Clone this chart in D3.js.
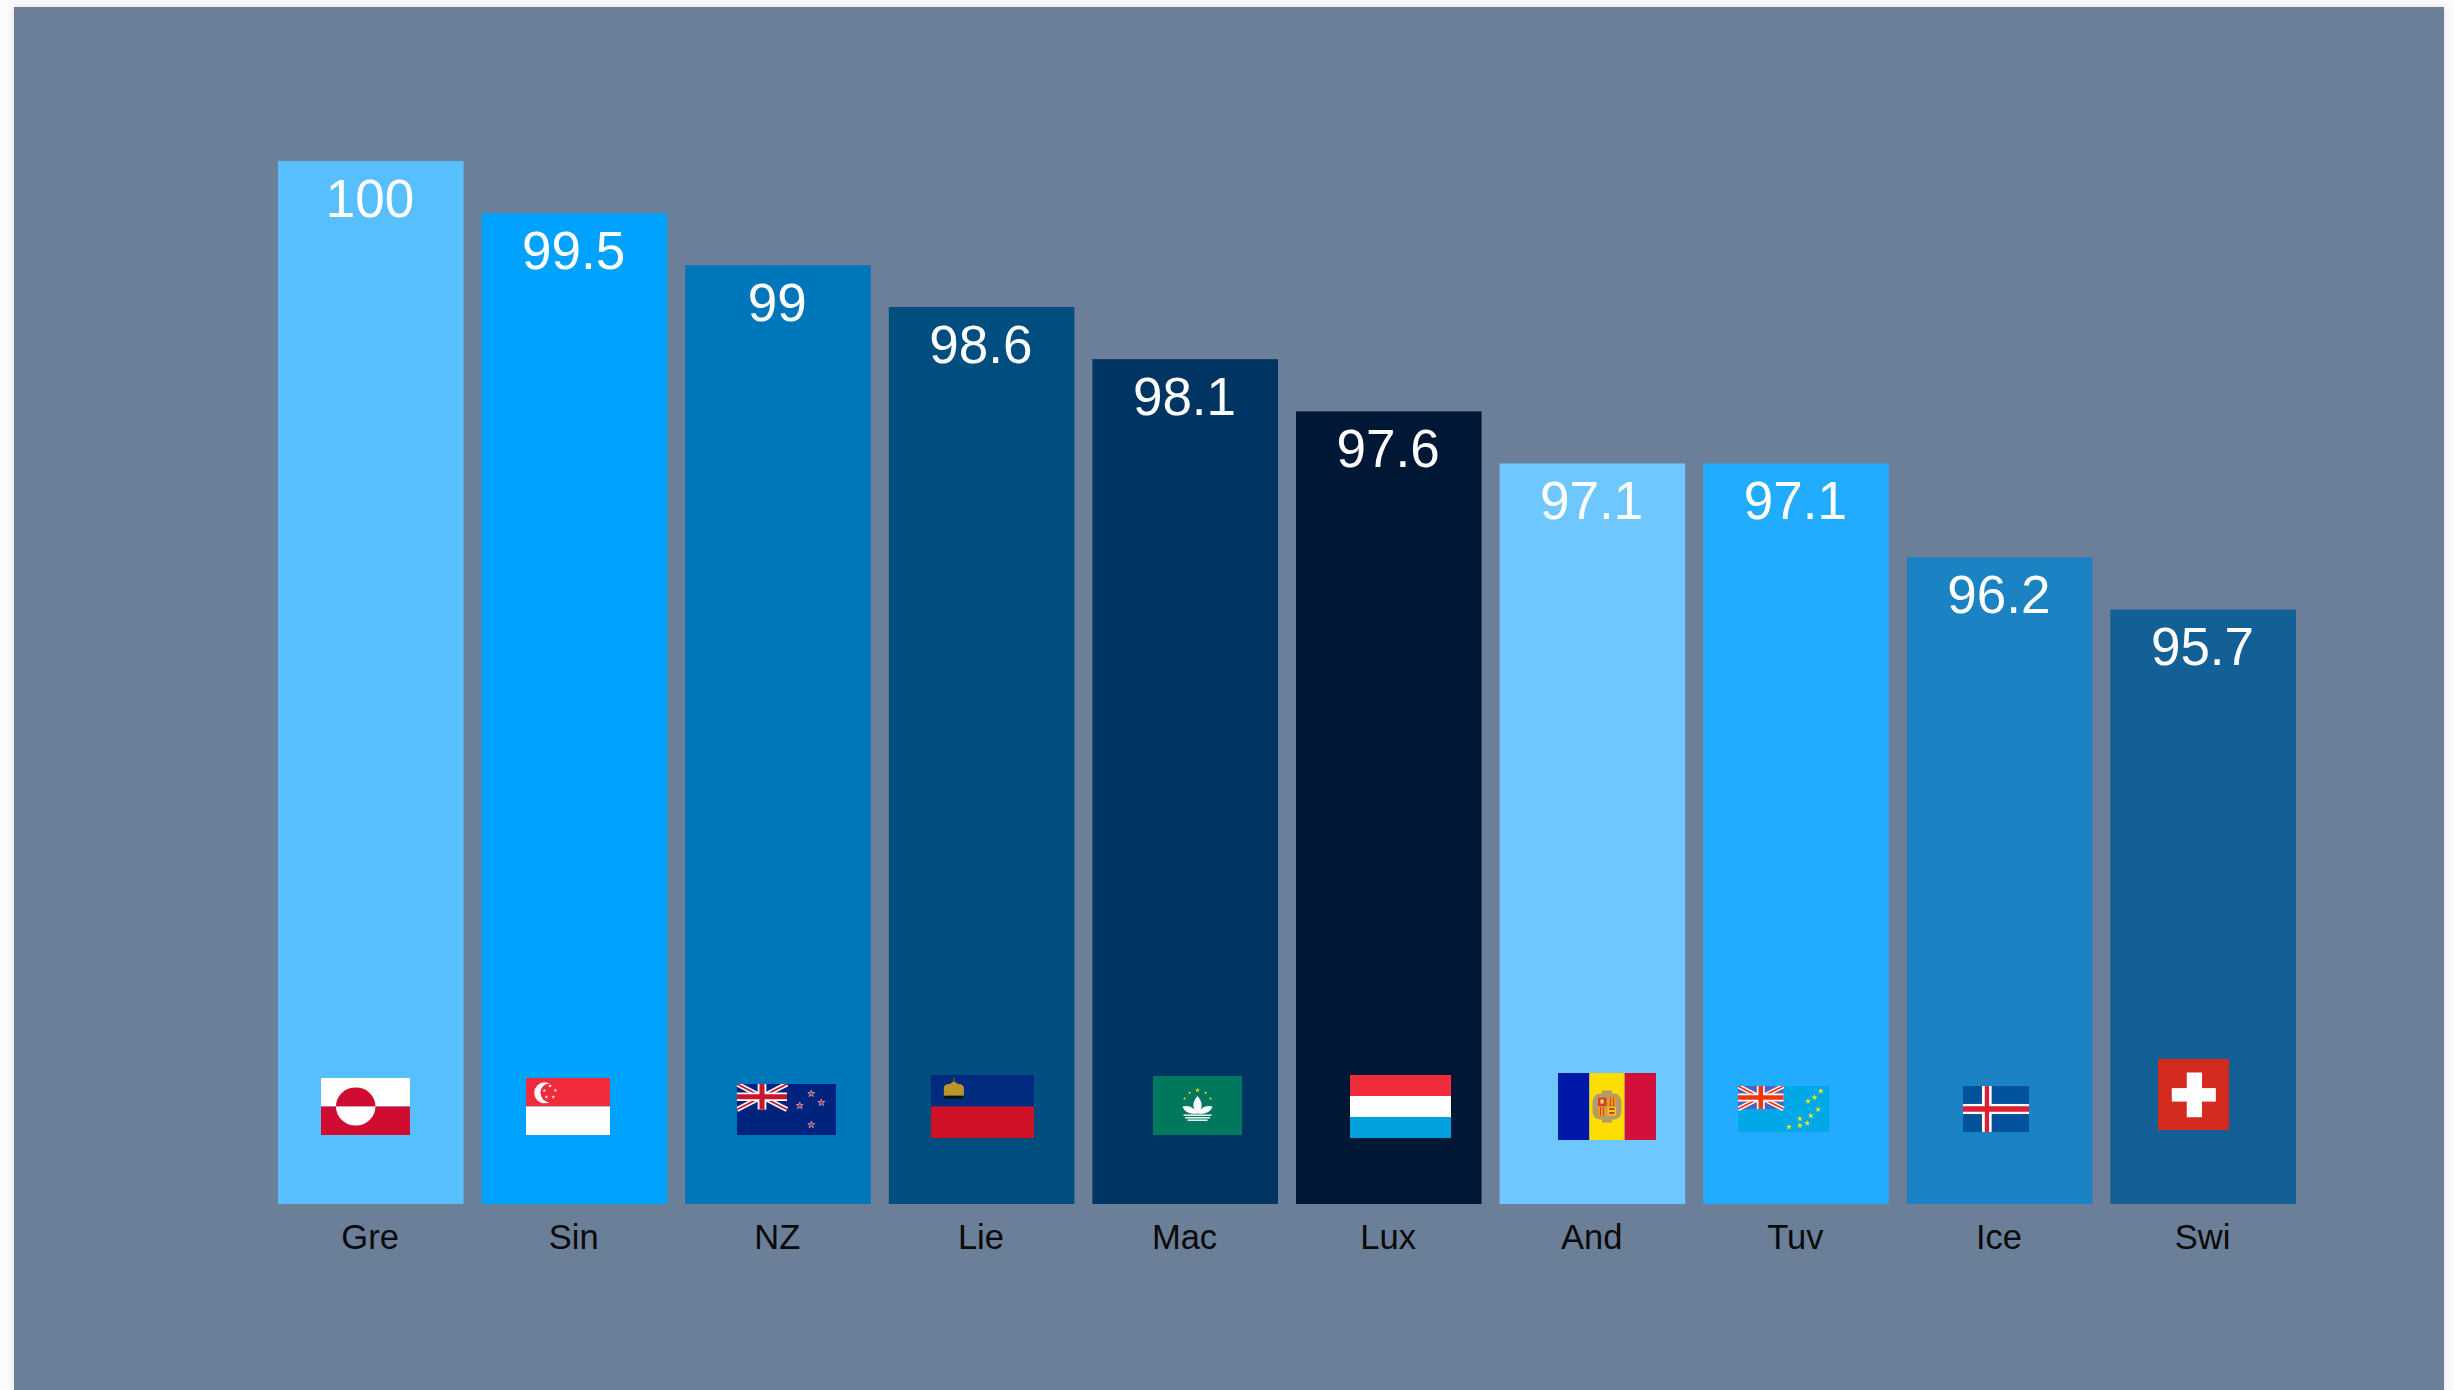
<!DOCTYPE html>
<html>
<head>
<meta charset="utf-8">
<script src="https://cdn.jsdelivr.net/npm/d3@7"></script>
<style>
html,body{margin:0;padding:0;background:#fbfbfb;overflow:hidden;}
#panel{position:absolute;left:14px;top:7px;width:2430px;height:1383px;background:#6b8098;box-shadow:0 0 7px rgba(0,0,0,.12);}
svg{position:absolute;left:0;top:0;}
text{font-family:"Liberation Sans",Arial,sans-serif;}
</style>
</head>
<body>
<div id="panel"></div>
<svg id="chart" width="2454" height="1390"></svg>
<script>
const categories = ["Gre","Sin","NZ","Lie","Mac","Lux","And","Tuv","Ice","Swi"];
const values = [100,99.5,99,98.6,98.1,97.6,97.1,97.1,96.2,95.7];
const valueLabels = ["100","99.5","99","98.6","98.1","97.6","97.1","97.1","96.2","95.7"];
const barColors = ["#58bfff","#00a2ff","#0076ba","#004e80","#003462","#001836","#6ec8ff","#22acff","#1b83c4","#136096"];
const flagNames = ["greenland","singapore","newzealand","liechtenstein","macau","luxembourg","andorra","tuvalu","iceland","switzerland"];
// flag box relative to band left edge / absolute top: [dx, y, w, h]
const flagBoxes = [[43,1078,89,57],[44.4,1078,84,57],[51.8,1084,99,51],[42.2,1075,103,63],[60.6,1076,89,59],[54,1075,101,63],[58.4,1073,98,67],[34.8,1086,91,46],[56.2,1086,66,46],[47.6,1059,71,71]];

const svg = d3.select("#chart");
const x = d3.scaleBand().domain(categories).range([278,2296]).paddingInner(0.0885).paddingOuter(0);
const y = d3.scaleLinear().domain([90,100]).range([1204,161]);

svg.append("g").selectAll("rect").data(categories).join("rect")
  .attr("x",d=>x(d)).attr("width",x.bandwidth())
  .attr("y",(d,i)=>y(values[i])).attr("height",(d,i)=>y(90)-y(values[i]))
  .attr("fill",(d,i)=>barColors[i]);

svg.append("g").selectAll("text").data(categories).join("text")
  .attr("x",d=>x(d)+x.bandwidth()/2-0.7).attr("y",(d,i)=>y(values[i])+56)
  .attr("text-anchor","middle").attr("fill","#fff").attr("font-size",53)
  .text((d,i)=>valueLabels[i]);

const axis = d3.axisBottom(x).tickSize(0).tickPadding(0);
const ag = svg.append("g").attr("transform","translate(-0.7,1204)").call(axis);
ag.select(".domain").remove();
ag.selectAll("text").attr("dy",null).attr("y",45).attr("font-size",34.5).attr("fill","#0a0a0a")
  .style("font-family",'"Liberation Sans",Arial,sans-serif');

function star(g,cx,cy,r,fill,stroke,sw){
  g.append("path").attr("d",d3.symbol(d3.symbolStar,Math.PI*r*r*0.7)())
   .attr("transform",`translate(${cx},${cy})`).attr("fill",fill)
   .attr("stroke",stroke||"none").attr("stroke-width",sw||0);
}
function rect(g,a,b,w,h,f){g.append("rect").attr("x",a).attr("y",b).attr("width",w).attr("height",h).attr("fill",f);}
function union(g,w,h,bg,wh,red){
  rect(g,0,0,w,h,bg);
  const c=g.append("g");
  const line=(x1,y1,x2,y2,col,sw)=>c.append("line").attr("x1",x1).attr("y1",y1).attr("x2",x2).attr("y2",y2).attr("stroke",col).attr("stroke-width",sw);
  line(0,0,w,h,wh,h*0.2);line(w,0,0,h,wh,h*0.2);
  line(0,0,w,h,red,h*0.07);line(w,0,0,h,red,h*0.07);
  line(w/2,0,w/2,h,wh,h*0.34);line(0,h/2,w,h/2,wh,h*0.34);
  line(w/2,0,w/2,h,red,h*0.2);line(0,h/2,w,h/2,red,h*0.2);
}
const drawers = {
  greenland(g,w,h){
    rect(g,0,0,w,h/2,"#fff");rect(g,0,h/2,w,h/2,"#d00c33");
    const cx=w*0.39,rx=w*0.222,ry=h*0.335;
    g.append("path").attr("d",`M${cx-rx},${h/2}A${rx},${ry} 0 0 1 ${cx+rx},${h/2}Z`).attr("fill","#d00c33");
    g.append("path").attr("d",`M${cx-rx},${h/2}A${rx},${ry} 0 0 0 ${cx+rx},${h/2}Z`).attr("fill","#fff");
  },
  singapore(g,w,h){
    rect(g,0,0,w,h/2,"#ef2b3c");rect(g,0,h/2,w,h/2,"#fff");
    g.append("circle").attr("cx",w*0.222).attr("cy",h*0.26).attr("r",h*0.184).attr("fill","#fff");
    g.append("circle").attr("cx",w*0.285).attr("cy",h*0.26).attr("r",h*0.167).attr("fill","#ef2b3c");
    [[.286,.14],[.218,.22],[.35,.216],[.243,.333],[.325,.333]].forEach(p=>star(g,w*p[0],h*p[1],1.4,"#fff"));
  },
  newzealand(g,w,h){
    rect(g,0,0,w,h,"#00247d");
    union(g.append("g"),w*0.505,h*0.5,"#00247d","#fff","#cc142b");
    [[.75,.19],[.634,.425],[.852,.366],[.75,.8]].forEach(p=>star(g,w*p[0],h*p[1],2.6,"#cc142b","#d8d8e8",.6));
  },
  liechtenstein(g,w,h){
    rect(g,0,0,w,h/2,"#002b7f");rect(g,0,h/2,w,h/2,"#ce1126");
    const cg=g.append("g").attr("transform",`translate(${w*0.222},${h*0.24})`);
    cg.append("path").attr("d","M-10,6 L-10,-3 Q-8,-7 -4,-6 L0,-9 L4,-6 Q8,-7 10,-3 L10,6 Z").attr("fill","#b8962a");
    cg.append("rect").attr("x",-9.5).attr("y",5.5).attr("width",19).attr("height",3).attr("fill","#111");
    cg.append("rect").attr("x",-.7).attr("y",-13).attr("width",1.4).attr("height",5).attr("fill","#6a5620");
  },
  macau(g,w,h){
    rect(g,0,0,w,h,"#00785e");
    const cx=w*0.5,cy=h*0.5,l=g.append("g").attr("fill","#fff");
    l.append("path").attr("d",`M${cx},${cy-9.5} C${cx+6},${cy-3} ${cx+5},${cy+4} ${cx},${cy+8} C${cx-5},${cy+4} ${cx-6},${cy-3} ${cx},${cy-9.5}Z`);
    l.append("path").attr("d",`M${cx-15},${cy+1} C${cx-8},${cy-1} ${cx-3},${cy+3} ${cx},${cy+8} C${cx-7},${cy+9} ${cx-13},${cy+7} ${cx-15},${cy+1}Z`);
    l.append("path").attr("d",`M${cx+15},${cy+1} C${cx+8},${cy-1} ${cx+3},${cy+3} ${cx},${cy+8} C${cx+7},${cy+9} ${cx+13},${cy+7} ${cx+15},${cy+1}Z`);
    [[9,14],[11.6,12.5],[14,10]].forEach(p=>{ rect(g,cx-p[1],cy+p[0],2*p[1],1.4,"#fff"); });
    star(g,cx,cy-15.3,1.9,"#ffd200");
    [[-8,-12.7],[8,-12.7],[-13,-7],[13,-7]].forEach(p=>star(g,cx+p[0],cy+p[1],1.2,"#ffd200"));
  },
  luxembourg(g,w,h){
    rect(g,0,0,w,h/3,"#ef2b3c");rect(g,0,h/3,w,h/3,"#fff");rect(g,0,2*h/3,w,h/3,"#00a1de");
  },
  andorra(g,w,h){
    rect(g,0,0,w*.32,h,"#0018a8");rect(g,w*.32,0,w*.36,h,"#fedd00");rect(g,w*.68,0,w*.32,h,"#d0103a");
    const cx=w*.5,cy=h*.5,cg=g.append("g");
    cg.append("rect").attr("x",cx-14.5).attr("y",cy-13).attr("width",29).attr("height",26).attr("rx",8).attr("fill","#b49c6a");
    cg.append("rect").attr("x",cx-5).attr("y",cy-16).attr("width",10).attr("height",4).attr("fill","#b49c6a");
    cg.append("rect").attr("x",cx-5).attr("y",cy+12).attr("width",10).attr("height",4).attr("fill","#b49c6a");
    rect(cg,cx-9,cy-9,8.5,8.5,"#d6402a");rect(cg,cx-6.5,cy-7,3,4,"#ffe070");
    rect(cg,cx+.5,cy-9,8.5,8.5,"#ee9a18");rect(cg,cx-9,cy+.5,8.5,8.5,"#ee9a18");
    rect(cg,cx+.5,cy+.5,8.5,8.5,"#f2c81e");rect(cg,cx+2,cy+1.5,5.5,2,"#d6402a");rect(cg,cx+2,cy+5.5,5.5,2,"#d6402a");
    [-7,-4].forEach(d=>{rect(cg,cx+d+10,cy-9,1,8.5,"#d6402a");rect(cg,cx+d,cy+.5,1,8.5,"#d6402a");});
  },
  tuvalu(g,w,h){
    rect(g,0,0,w,h,"#00a8e8");
    union(g.append("g"),w*0.5,h*0.5,"#5560bb","#fff","#f8330c");
    [[.91,.11],[.84,.25],[.77,.33],[.88,.51],[.8,.645],[.68,.71],[.76,.81],[.68,.86],[.56,.89]].forEach(p=>star(g,w*p[0],h*p[1],2.3,"#f3e81a"));
  },
  iceland(g,w,h){
    rect(g,0,0,w,h,"#02529c");
    rect(g,w*.287,0,w*.147,h,"#fff");rect(g,0,h*.39,w,h*.22,"#fff");
    rect(g,w*.33,0,w*.065,h,"#dc1e35");rect(g,0,h*.44,w,h*.12,"#dc1e35");
  },
  switzerland(g,w,h){
    rect(g,0,0,w,h,"#d52b1e");
    rect(g,w*.194,h*.41,w*.62,h*.19,"#fff");rect(g,w*.405,h*.19,w*.215,h*.63,"#fff");
  }
};
const flags = svg.append("g");
categories.forEach((c,i)=>{
  const b=flagBoxes[i];
  const g=flags.append("g").attr("transform",`translate(${x(c)+b[0]},${b[1]})`);
  const id="clip"+i;
  g.append("clipPath").attr("id",id).append("rect").attr("width",b[2]).attr("height",b[3]);
  drawers[flagNames[i]](g.append("g").attr("clip-path",`url(#${id})`),b[2],b[3]);
});
</script>
</body>
</html>
